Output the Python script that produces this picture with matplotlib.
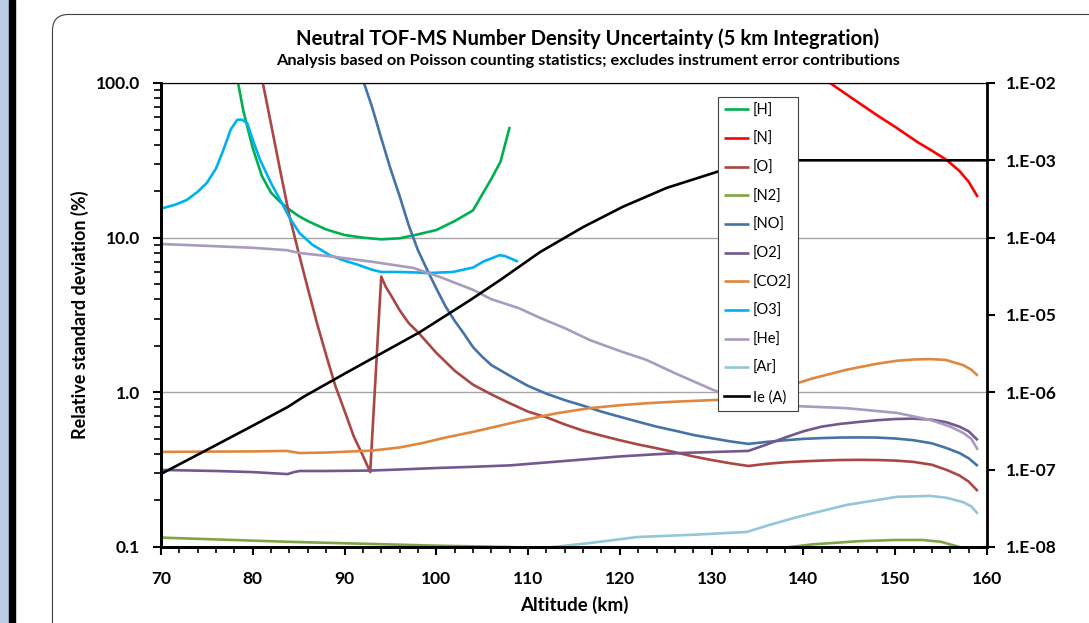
import matplotlib
matplotlib.use("Agg")
import matplotlib.pyplot as plt
from matplotlib.patches import Rectangle, FancyBboxPatch
from matplotlib.ticker import FixedLocator, MultipleLocator, LogLocator, NullFormatter

plt.rcParams['font.family'] = ['Lato', 'DejaVu Sans']

# altitude (km) / relative std dev (%) for each species
h_alt = [77.5, 78.4, 79, 80, 81, 82, 83, 84, 85, 86, 88, 90, 92, 94, 96, 98, 100, 102, 104, 105, 106, 107, 108]
h_val = [160, 100, 65, 38, 25, 19.5, 17, 15.2, 13.8, 12.8, 11.3, 10.4, 10.0, 9.75, 9.9, 10.5, 11.2, 12.8, 15, 19, 24, 31, 52]

n_alt = [142, 142.9, 145, 148, 150, 152.4, 154, 155.6, 157, 158, 159]
n_val = [110, 100, 82, 62, 52, 41.6, 36.5, 31.8, 27, 23, 18.3]

o_alt = [80, 81.1, 82, 83, 84, 85, 86, 87, 88, 89, 90, 91, 92, 92.8, 94, 94.5, 95, 96, 97, 98, 99, 100,
         102, 104, 106, 108, 110, 112, 114, 116, 118, 120, 122, 124, 126, 128, 130, 132, 134,
         136, 138, 140, 142, 144, 146, 148, 150, 152, 154, 155.6, 157, 158, 159]
o_val = [190, 100, 54, 27, 13.8, 8.0, 4.7, 2.8, 1.74, 1.1, 0.76, 0.52, 0.39, 0.305, 5.6, 4.8, 4.3, 3.4, 2.8, 2.45, 2.1, 1.8,
         1.38, 1.12, 0.97, 0.85, 0.75, 0.69, 0.62, 0.565, 0.525, 0.49, 0.46, 0.435, 0.41, 0.385, 0.365, 0.348, 0.334,
         0.345, 0.353, 0.358, 0.362, 0.365, 0.366, 0.365, 0.362, 0.355, 0.34, 0.315, 0.29, 0.265, 0.23]

n2_alt = [70, 84, 100, 108, 112, 120, 130, 134, 138, 141, 146, 150, 153, 155, 157, 159]
n2_val = [0.115, 0.108, 0.102, 0.1, 0.097, 0.094, 0.093, 0.094, 0.099, 0.104, 0.109, 0.111, 0.111, 0.108, 0.1, 0.094]

no_alt = [91, 92, 93, 94, 95, 96, 97, 98, 99, 100, 101, 102, 103, 104, 105, 106, 108, 110, 112, 114, 116, 118,
          120, 122, 124, 126, 128, 130, 132, 134, 136, 138, 140, 142, 144, 146, 148, 150, 152, 154, 155.6, 157, 158, 159]
no_val = [170, 105, 70, 44, 28, 18.6, 12, 8.3, 6.2, 4.7, 3.6, 2.9, 2.4, 1.96, 1.7, 1.5, 1.28, 1.1, 0.98, 0.89, 0.82, 0.75,
          0.695, 0.645, 0.6, 0.565, 0.53, 0.505, 0.482, 0.464, 0.478, 0.49, 0.5, 0.506, 0.51, 0.511, 0.51, 0.503, 0.49, 0.468,
          0.436, 0.405, 0.375, 0.334]

o2_alt = [70, 76, 80, 83.8, 84.5, 85.1, 88, 92.8, 96, 100, 104, 108, 112, 116, 120, 124, 127, 130, 134,
          136, 138, 140, 142, 144, 146, 148, 150, 152, 154, 155.6, 157, 158, 159]
o2_val = [0.315, 0.31, 0.305, 0.296, 0.305, 0.31, 0.31, 0.312, 0.317, 0.324, 0.33, 0.337, 0.352, 0.368, 0.385, 0.398, 0.406,
          0.411, 0.418, 0.46, 0.51, 0.56, 0.6, 0.625, 0.643, 0.66, 0.672, 0.676, 0.665, 0.64, 0.6, 0.56, 0.49]

co2_alt = [70, 80, 83.7, 85.1, 88, 93, 96, 98.5, 101, 104, 107, 110, 113, 116.7, 120, 122.9, 126, 130, 134,
           136.5, 138.8, 141, 144.7, 148, 150.2, 152, 153.8, 155.5, 157.4, 158.3, 159]
co2_val = [0.412, 0.415, 0.418, 0.405, 0.408, 0.42, 0.44, 0.47, 0.51, 0.555, 0.61, 0.67, 0.73, 0.79, 0.825, 0.85, 0.87, 0.89,
           0.91, 1.0, 1.12, 1.23, 1.4, 1.53, 1.6, 1.63, 1.64, 1.62, 1.5, 1.4, 1.28]

o3_alt = [70, 71.5, 72.8, 74, 75, 76, 76.8, 77.6, 78.3, 78.8, 79.4, 80, 80.8, 82, 83, 84, 85.1, 86.5, 88.4, 90,
          91.4, 93, 94, 96, 98, 99, 101.8, 104, 105.1, 106.9, 107.5, 108.9]
o3_val = [15.4, 16.3, 17.5, 19.8, 22.6, 28, 36.9, 50, 57.7, 58, 55, 43, 31.8, 22.5, 17.5, 13.5, 10.7, 9.0, 7.7, 7.1,
          6.7, 6.2, 6.0, 6.0, 5.95, 5.9, 6.0, 6.4, 7.0, 7.7, 7.6, 7.0]

he_alt = [70, 75, 80, 83.7, 85.1, 89, 93.1, 97.5, 100.4, 104, 106, 109, 111.3, 114, 116.7, 120, 122.9, 126, 130.1,
          134, 138.8, 144.7, 150.2, 153.8, 156, 157.4, 158.3, 159]
he_val = [9.1, 8.85, 8.6, 8.3, 7.96, 7.5, 6.97, 6.37, 5.57, 4.6, 4.0, 3.5, 3.03, 2.6, 2.18, 1.85, 1.62, 1.33, 1.04,
          0.86, 0.817, 0.79, 0.736, 0.664, 0.6, 0.547, 0.5, 0.425]

ar_alt = [106, 110, 112.7, 116.7, 121.9, 128, 133.8, 136.5, 139.3, 144.7, 150.2, 153.8, 155.6, 157.4, 158.3, 159]
ar_val = [0.085, 0.095, 0.1, 0.106, 0.116, 0.12, 0.125, 0.14, 0.156, 0.187, 0.211, 0.214, 0.208, 0.195, 0.183, 0.164]

# electron current (A), right axis
ie_alt = [70, 75, 80, 83.8, 85.5, 90, 95, 98.2, 103.7, 106.9, 111.3, 116, 120.3, 125.1, 130.6, 134, 160]
ie_val = [8.8e-8, 1.8e-7, 3.7e-7, 6.45e-7, 8.7e-7, 1.74e-6, 3.7e-6, 6.0e-6, 1.56e-5, 2.8e-5, 6.5e-5, 1.37e-4,
          2.5e-4, 4.4e-4, 7.1e-4, 1.0e-3, 1.0e-3]

fig = plt.figure(figsize=(10.89, 6.23), dpi=100)

# page decoration
fig.patches.append(Rectangle((0, 0), 0.09, 6.23, transform=fig.dpi_scale_trans, color='#b9cde5', zorder=0))
fig.patches.append(Rectangle((0.09, 0), 0.06, 6.23, transform=fig.dpi_scale_trans, color='black', zorder=0))
fig.patches.append(FancyBboxPatch((0.525, -1), 12, 7.085, boxstyle='round,pad=0,rounding_size=0.16',
                                  transform=fig.dpi_scale_trans, fc='white', ec='#404040', lw=0.8, zorder=0))

ax = fig.add_axes([0.1478, 0.1220, 0.7585, 0.7448])
ax2 = ax.twinx()
ax.set_zorder(1)
ax2.set_zorder(2)
ax.patch.set_visible(False)
ax2.patch.set_visible(False)

lw = 1.9
series = [
    (h_alt, h_val, '#00B050', '[H]'),
    (n_alt, n_val, '#FF0000', '[N]'),
    (o_alt, o_val, '#AA4643', '[O]'),
    (n2_alt, n2_val, '#7FA543', '[N2]'),
    (no_alt, no_val, '#4572A7', '[NO]'),
    (o2_alt, o2_val, '#71588F', '[O2]'),
    (co2_alt, co2_val, '#E0873D', '[CO2]'),
    (o3_alt, o3_val, '#00B0F0', '[O3]'),
    (he_alt, he_val, '#A99BBD', '[He]'),
    (ar_alt, ar_val, '#93C6D9', '[Ar]'),
]
handles = []
for x, y, c, lab in series:
    l, = ax.plot(x, y, color=c, lw=lw, label=lab, solid_capstyle='butt')
    handles.append(l)
l, = ax2.plot(ie_alt, ie_val, color='black', lw=lw, label='Ie (A)')
handles.append(l)

ax.set_yscale('log')
ax.set_xlim(70, 160)
ax.set_ylim(0.1, 100)
ax.yaxis.set_major_locator(FixedLocator([0.1, 1, 10, 100]))
ax.set_yticklabels(['0.1', '1.0', '10.0', '100.0'])
ax.yaxis.set_minor_locator(LogLocator(base=10, subs=range(2, 10)))
ax.yaxis.set_minor_formatter(NullFormatter())
ax.xaxis.set_major_locator(MultipleLocator(10))
ax.xaxis.set_minor_locator(MultipleLocator(2))
ax.grid(axis='y', which='major', color='#a6a6a6', lw=1)
ax.set_axisbelow(True)

ax2.set_yscale('log')
ax2.set_ylim(1e-8, 1e-2)
ie_ticks = [1e-8, 1e-7, 1e-6, 1e-5, 1e-4, 1e-3, 1e-2]
ax2.yaxis.set_major_locator(FixedLocator(ie_ticks))
ax2.set_yticklabels(['1.E-08', '1.E-07', '1.E-06', '1.E-05', '1.E-04', '1.E-03', '1.E-02'])
ax2.yaxis.set_minor_locator(FixedLocator([]))

for a in (ax, ax2):
    a.spines['top'].set_linewidth(0.8)
    a.spines['left'].set_linewidth(2)
    a.spines['bottom'].set_linewidth(2)
    a.spines['right'].set_linewidth(2)
ax.spines['right'].set_visible(False)

ax.tick_params(axis='both', which='major', direction='out', length=6, width=1.5, labelsize=12.5)
ax.tick_params(axis='y', which='minor', direction='out', length=5, width=1.2)
ax.tick_params(axis='x', which='minor', direction='out', length=4, width=1.2)
ax.tick_params(axis='x', pad=11)
ax.tick_params(axis='y', pad=9)
ax2.tick_params(axis='y', which='major', direction='out', length=6, width=1.5, labelsize=12.5, pad=8)
for t in ax.get_xticklabels() + ax.get_yticklabels() + ax2.get_yticklabels():
    t.set_fontweight('bold')

ax.set_xlabel('Altitude (km)', fontsize=13.5, fontweight='bold', labelpad=7)
ax.set_ylabel('Relative standard deviation (%)', fontsize=13, fontweight='bold', labelpad=5)

fig.text(0.54, 0.938, 'Neutral TOF-MS Number Density Uncertainty (5 km Integration)',
         ha='center', va='center', fontsize=14.6, fontweight='bold')
fig.text(0.54, 0.902, 'Analysis based on Poisson counting statistics; excludes instrument error contributions',
         ha='center', va='center', fontsize=11.8, fontweight='bold')

leg = ax2.legend(handles=handles, loc='upper left', bbox_to_anchor=(0.674, 0.97), borderaxespad=0,
                 fontsize=10.5, frameon=True, fancybox=False, edgecolor='#404040', framealpha=1,
                 handlelength=1.7, handletextpad=0.25, labelspacing=1.0, borderpad=0.45)
leg.get_frame().set_linewidth(0.8)
leg.set_zorder(10)

fig.savefig('out.png', dpi=100)
